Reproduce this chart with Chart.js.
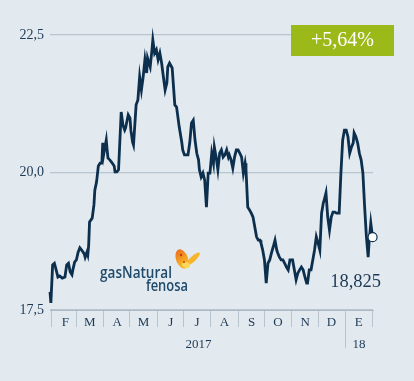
<!DOCTYPE html>
<html><head><meta charset="utf-8">
<script src="https://cdn.jsdelivr.net/npm/chart.js@4/dist/chart.umd.min.js"></script>
<style>html,body{margin:0;padding:0;background:#e2e9ef;overflow:hidden}</style>
</head><body>
<canvas id="c" width="414" height="381"></canvas>
<script>
// days since 1 Feb 2017
const dayOffsets = [-2,-1,1,3,5,7,9,12,15,17,19,21,23,24,26,28,30,32,34,37,38,40,41,42,43,46,48,49,51,53,55,57,58,59,61,62,63,64,66,68,71,72,74,76,79,81,83,84,87,89,90,92,93,96,98,100,102,104,106,108,109,112,114,115,117,119,121,123,125,127,129,131,132,134,137,138,140,142,145,148,149,151,155,157,159,161,163,165,167,168,170,172,174,176,178,180,182,184,185,187,189,191,193,195,197,199,201,202,204,206,208,210,212,214,216,218,220,221,223,225,227,229,231,233,235,237,238,240,242,244,246,248,250,252,254,256,257,259,261,263,265,267,269,271,273,274,276,278,280,282,284,286,288,290,291,293,295,297,299,301,303,305,307,309,310,312,314,316,318,320,322,324,326,327,329,331,333,335,337,339,341,343,344,346,348,350,352,354,356,358,360,361,363,365];
const prices = [17.83,17.63,18.32,18.35,18.23,18.10,18.12,18.08,18.10,18.32,18.35,18.19,18.14,18.23,18.37,18.41,18.55,18.63,18.59,18.52,18.46,18.55,18.50,18.68,19.10,19.17,19.41,19.68,19.83,20.12,20.17,20.17,20.54,20.32,20.50,20.59,20.41,20.26,20.23,20.19,20.12,20.01,20.01,20.05,21.10,20.86,20.77,20.81,21.05,20.99,20.77,20.55,20.50,21.23,21.32,21.74,21.50,21.74,22.05,21.81,22.08,21.92,22.23,22.41,22.17,22.23,22.05,22.17,21.99,21.74,21.50,21.63,21.92,21.99,21.90,21.68,21.23,21.19,20.83,20.54,20.41,20.32,20.32,20.54,20.90,20.95,20.59,20.35,20.23,20.05,19.92,19.99,19.86,19.37,19.99,19.99,20.35,20.17,20.46,20.28,20.05,20.35,20.41,20.28,20.32,20.41,20.28,20.32,20.23,20.08,20.28,20.41,20.41,20.35,20.28,19.99,20.17,20.05,19.37,19.32,19.26,19.19,19.01,18.83,18.77,18.77,18.72,18.59,18.41,17.99,18.35,18.41,18.54,18.65,18.77,18.59,18.54,18.46,18.41,18.41,18.35,18.28,18.23,18.41,18.41,18.41,18.23,18.05,18.17,18.23,18.28,18.23,18.10,17.99,17.99,18.23,18.23,18.41,18.59,18.83,18.72,18.59,19.26,19.45,19.50,19.63,19.19,18.95,19.19,19.28,19.28,19.26,19.26,19.26,19.99,20.59,20.77,20.77,20.65,20.35,20.46,20.54,20.72,20.65,20.54,20.35,20.23,19.99,19.37,18.83,18.46,18.72,19.08,18.825];
const monthStarts = [0,28,59,89,120,150,181,212,242,273,303,334,365];
const monthLabels = ['F','M','A','M','J','J','A','S','O','N','D','E',''];
const yearBounds = [0,334,365];
const yearLabels = ['2017','18'];
const yTicks = [17.5,20,22.5];
const changeLabel = '+5,64%';
const logoWords = ['gasNatural','fenosa'];

const NAVY = '#0c2f4e';
const TEXT = '#1c3956';
const GRID = '#b8c4ce';
const SERIF = '"Liberation Serif", "DejaVu Serif", serif';

const decor = {
  id: 'decor',
  beforeDraw(chart) {
    const c = chart.ctx;
    c.save(); c.fillStyle = '#e2e9ef'; c.fillRect(0, 0, chart.width, chart.height); c.restore();
  },
  afterDraw(chart) {
    const c = chart.ctx, x = chart.scales.x, y = chart.scales.y, a = chart.chartArea;
    c.save();
    // year boundary long tick
    const yb = x.getPixelForValue(yearBounds[1]);
    c.strokeStyle = GRID; c.lineWidth = 1;
    c.beginPath(); c.moveTo(Math.round(yb) + 0.5, a.bottom); c.lineTo(Math.round(yb) + 0.5, a.bottom + 38); c.stroke();
    // year labels
    c.fillStyle = TEXT; c.font = '13px ' + SERIF; c.textAlign = 'center'; c.textBaseline = 'middle';
    for (let i = 0; i < yearLabels.length; i++) {
      const cx = (x.getPixelForValue(yearBounds[i]) + x.getPixelForValue(yearBounds[i + 1])) / 2;
      c.fillText(yearLabels[i], cx, a.bottom + 35);
    }
    // last value label
    const last = prices.length - 1;
    const lp = y.getPixelForValue(prices[last]);
    c.font = '18.5px ' + SERIF; c.textAlign = 'right'; c.fillStyle = TEXT;
    c.fillText(prices[last].toFixed(3).replace('.', ','), 381, lp + 45);
    // change badge
    c.fillStyle = '#9bba1a';
    c.fillRect(291, 25, 103, 31);
    c.fillStyle = '#ffffff'; c.font = '20px ' + SERIF; c.textAlign = 'center';
    c.fillText(changeLabel, 342.5, 41);
    // logo text
    c.fillStyle = '#1f4a6b'; c.textAlign = 'left'; c.textBaseline = 'alphabetic';
    c.font = '600 15.5px "Open Sans", "Noto Sans", sans-serif';
    c.fillText(logoWords[0], 100, 278, 72);
    c.fillText(logoWords[1], 146, 291, 42);
    // butterfly
    const g = c.createLinearGradient(176, 249, 190, 270);
    g.addColorStop(0, '#e8681d'); g.addColorStop(0.5, '#f4a322'); g.addColorStop(1, '#f8cf3a');
    c.fillStyle = g;
    c.beginPath(); c.ellipse(182, 259, 6, 10, -0.35, 0, Math.PI * 2); c.fill();
    c.fillStyle = '#f6b52c';
    c.beginPath(); c.ellipse(193, 259, 9, 2.8, -0.75, 0, Math.PI * 2); c.fill();
    c.fillStyle = '#f9d85a';
    c.beginPath(); c.ellipse(186, 265, 4, 3, 0.3, 0, Math.PI * 2); c.fill();
    c.fillStyle = '#c9361b';
    c.beginPath(); c.arc(181, 255, 1.2, 0, Math.PI * 2); c.fill();
    c.beginPath(); c.arc(184, 262, 1, 0, Math.PI * 2); c.fill();
    c.restore();
  }
};

new Chart(document.getElementById('c'), {
  type: 'line',
  data: {
    datasets: [{
      data: dayOffsets.map((d, i) => ({ x: d, y: prices[i] })),
      borderColor: NAVY,
      borderWidth: 2.8,
      tension: 0,
      clip: false,
      pointRadius: ctx => ctx.dataIndex === prices.length - 1 ? 4.5 : 0,
      pointHoverRadius: 0,
      pointBackgroundColor: '#ffffff',
      pointBorderColor: NAVY,
      pointBorderWidth: 1.2
    }]
  },
  options: {
    responsive: false,
    animation: false,
    devicePixelRatio: 1,
    layout: { padding: { top: 35, right: 41, left: 0, bottom: 0 } },
    plugins: { legend: { display: false }, tooltip: { enabled: false } },
    scales: {
      x: {
        type: 'linear', min: -2, max: 365.5,
        afterBuildTicks: s => { s.ticks = monthStarts.map(v => ({ value: v })); },
        afterFit: s => { s.height = 71; },
        ticks: {
          autoSkip: false, maxRotation: 0, minRotation: 0,
          callback: (v, i) => monthLabels[i],
          labelOffset: 13.5, padding: -12,
          color: TEXT, font: { family: SERIF, size: 13 }
        },
        grid: { drawOnChartArea: false, drawTicks: true, tickLength: 17, tickColor: GRID, tickWidth: 1 },
        border: { display: true, color: '#aebbc6', width: 1 }
      },
      y: {
        min: 17.5, max: 22.5,
        afterBuildTicks: s => { s.ticks = yTicks.map(v => ({ value: v })); },
        afterFit: s => { s.width = 50; },
        ticks: {
          callback: v => v.toFixed(1).replace('.', ','),
          padding: 6, color: TEXT, font: { family: SERIF, size: 14 }
        },
        grid: { drawTicks: false, color: GRID, lineWidth: 1.3 },
        border: { display: false }
      }
    }
  },
  plugins: [decor]
});
</script>
</body></html>
